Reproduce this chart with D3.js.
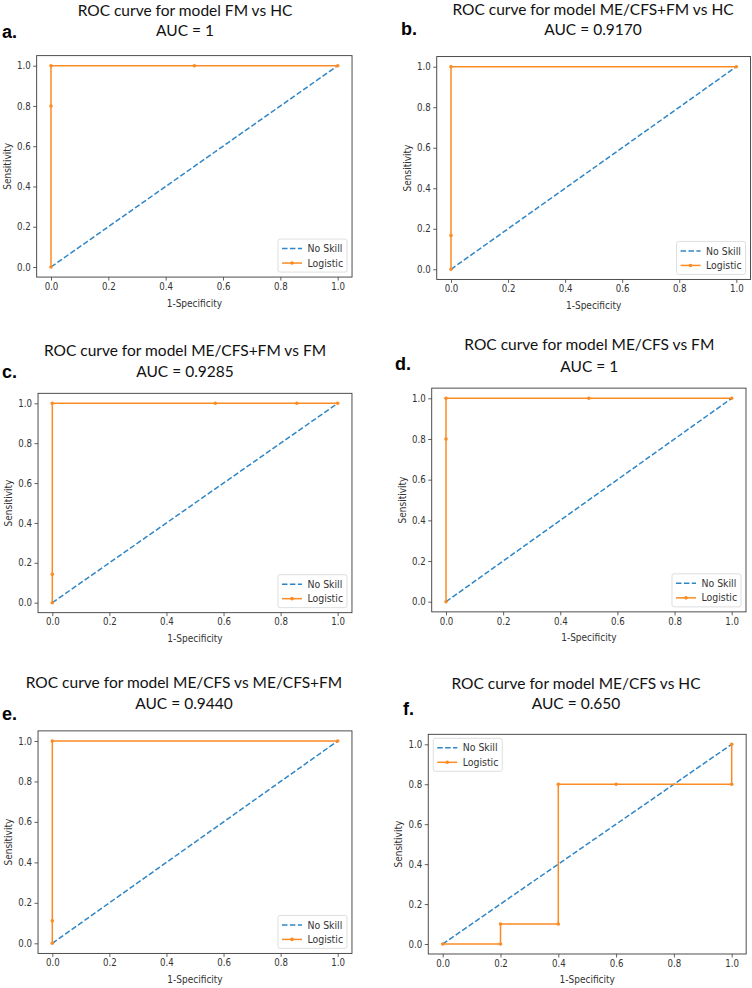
<!DOCTYPE html>
<html>
<head>
<meta charset="utf-8">
<script src="https://cdn.jsdelivr.net/npm/d3@7"></script>
<style>
  html, body { margin: 0; padding: 0; background: #fff; }
  svg { display: block; }
</style>
</head>
<body>
<svg id="chart" width="752" height="988"></svg>
<script>
// ---- data ----
const panelLetters = ["a.", "b.", "c.", "d.", "e.", "f."];
const titleLines1 = [
  "ROC curve for model FM vs HC",
  "ROC curve for model ME/CFS+FM vs HC",
  "ROC curve for model ME/CFS+FM vs FM",
  "ROC curve for model ME/CFS vs FM",
  "ROC curve for model ME/CFS vs ME/CFS+FM",
  "ROC curve for model ME/CFS vs HC"
];
const aucLabels = ["AUC = 1", "AUC = 0.9170", "AUC = 0.9285", "AUC = 1", "AUC = 0.9440", "AUC = 0.650"];
const noSkillFpr = [0, 1];
const noSkillTpr = [0, 1];
const fprA = [0, 0, 0, 0.5, 1];
const tprA = [0, 0.8, 1, 1, 1];
const fprB = [0, 0, 0, 1];
const tprB = [0, 0.167, 1, 1];
const fprC = [0, 0, 0, 0.571, 0.857, 1];
const tprC = [0, 0.143, 1, 1, 1, 1];
const fprD = [0, 0, 0, 0.5, 1];
const tprD = [0, 0.8, 1, 1, 1];
const fprE = [0, 0, 0, 1];
const tprE = [0, 0.111, 1, 1];
const fprF = [0, 0.2, 0.2, 0.4, 0.4, 0.6, 1, 1];
const tprF = [0, 0, 0.1, 0.1, 0.8, 0.8, 0.8, 1];
const tickValues = [0, 0.2, 0.4, 0.6, 0.8, 1.0];
const xLabelText = "1-Specificity";
const yLabelText = "Sensitivity";
const legendNames = ["No Skill", "Logistic"];
const legendPos = ["lr", "lr", "lr", "lr", "lr", "ul"];

const fprs = [fprA, fprB, fprC, fprD, fprE, fprF];
const tprs = [tprA, tprB, tprC, tprD, tprE, tprF];

// ---- layout (pixel positions of 0 and 1 ticks) ----
const layout = [
  { x0: 51,    x1: 337.7, y0: 267,   y1: 65.7,  tx: 185,   ty1: 11,    ty2: 30.5,  lx: 2,     ly: 38 },
  { x0: 451,   x1: 736.3, y0: 269.3, y1: 66.7,  tx: 593,   ty1: 10,    ty2: 30,    lx: 401,   ly: 35 },
  { x0: 52.3,  x1: 337.7, y0: 602.7, y1: 403.3, tx: 185,   ty1: 351,   ty2: 372,   lx: 2,     ly: 378 },
  { x0: 446,   x1: 731.7, y0: 601.7, y1: 398.3, tx: 589.3, ty1: 345,   ty2: 366.7, lx: 395,   ly: 370 },
  { x0: 52.3,  x1: 337.7, y0: 943.3, y1: 741,   tx: 184,   ty1: 683,   ty2: 704,   lx: 2,     ly: 720 },
  { x0: 442.7, x1: 731.7, y0: 944,   y1: 744.3, tx: 576,   ty1: 683.3, ty2: 704,   lx: 403,   ly: 715 }
];

const BLUE = "#2f86c6";
const ORANGE = "#fb8b24";
const FRAME = "#3a3a3a";
const TXT = "#333";
const SMALL_FONT = "'DejaVu Sans', sans-serif";

const svg = d3.select("#chart");

layout.forEach((L, i) => {
  const ux = L.x1 - L.x0, uy = L.y0 - L.y1;
  const left = L.x0 - 0.05 * ux, right = L.x1 + 0.05 * ux;
  const top = L.y1 - 0.05 * uy, bottom = L.y0 + 0.05 * uy;
  const x = d3.scaleLinear().domain([-0.05, 1.05]).range([left, right]);
  const y = d3.scaleLinear().domain([-0.05, 1.05]).range([bottom, top]);

  const g = svg.append("g");

  // titles
  g.append("text").attr("x", L.tx).attr("y", L.ty1).attr("dy", "0.35em")
    .attr("text-anchor", "middle").attr("font-family", "Lato, 'Open Sans', sans-serif")
    .attr("font-size", 15.5).attr("fill", "#111").text(titleLines1[i]);
  g.append("text").attr("x", L.tx).attr("y", L.ty2).attr("dy", "0.35em")
    .attr("text-anchor", "middle").attr("font-family", "Lato, 'Open Sans', sans-serif")
    .attr("font-size", 15.5).attr("fill", "#111").text(aucLabels[i]);
  // panel letter
  g.append("text").attr("x", L.lx).attr("y", L.ly)
    .attr("font-family", "'Liberation Sans', Arial, sans-serif").attr("font-weight", "bold")
    .attr("font-size", 18).attr("fill", "#000").text(panelLetters[i]);

  // axes
  const fmt = d3.format(".1f");
  const xAxis = d3.axisBottom(x).tickValues(tickValues).tickFormat(fmt).tickSize(3.5).tickPadding(2.5);
  const yAxis = d3.axisLeft(y).tickValues(tickValues).tickFormat(fmt).tickSize(3.5).tickPadding(2.5);
  const gx = g.append("g").attr("transform", `translate(0,${bottom})`).call(xAxis);
  const gy = g.append("g").attr("transform", `translate(${left},0)`).call(yAxis);
  [gx, gy].forEach(ax => {
    ax.select(".domain").remove();
    ax.selectAll(".tick line").attr("stroke", FRAME).attr("stroke-width", 0.8);
    ax.selectAll(".tick text").attr("fill", TXT)
      .attr("font-family", SMALL_FONT).attr("font-size", 9.6)
      .attr("font-stretch", "condensed");
  });

  // axis labels
  g.append("text").attr("x", (left + right) / 2).attr("y", bottom + 26).attr("dy", "0.35em")
    .attr("text-anchor", "middle").attr("font-family", SMALL_FONT)
    .attr("font-size", 10).attr("font-stretch", "condensed").attr("fill", TXT).text(xLabelText);
  g.append("text")
    .attr("transform", `translate(${L.x0 - 44},${(top + bottom) / 2}) rotate(-90)`)
    .attr("dy", "0.35em").attr("text-anchor", "middle").attr("font-family", SMALL_FONT)
    .attr("font-size", 10).attr("font-stretch", "condensed").attr("fill", TXT).text(yLabelText);

  // clip
  const cid = "clip" + i;
  g.append("clipPath").attr("id", cid).append("rect")
    .attr("x", left).attr("y", top).attr("width", right - left).attr("height", bottom - top);

  const line = d3.line().x(d => x(d[0])).y(d => y(d[1]));
  // no skill
  g.append("path").attr("clip-path", `url(#${cid})`)
    .datum(noSkillFpr.map((v, k) => [v, noSkillTpr[k]]))
    .attr("d", line).attr("fill", "none").attr("stroke", BLUE)
    .attr("stroke-width", 1.5).attr("stroke-dasharray", "5.5,2.4");
  // logistic
  const pts = fprs[i].map((v, k) => [v, tprs[i][k]]);
  g.append("path").datum(pts).attr("d", line).attr("fill", "none")
    .attr("stroke", ORANGE).attr("stroke-width", 1.5);
  g.selectAll("circle.m").data(pts).join("circle").attr("class", "m")
    .attr("cx", d => x(d[0])).attr("cy", d => y(d[1])).attr("r", 1.8).attr("fill", ORANGE);

  // frame
  g.append("rect").attr("x", left).attr("y", top).attr("width", right - left).attr("height", bottom - top)
    .attr("fill", "none").attr("stroke", FRAME).attr("stroke-width", 0.9);

  // legend
  const lw = 69, lh = 33;
  let bx, by;
  if (legendPos[i] === "lr") { bx = right - 5 - lw; by = bottom - 5 - lh; }
  else { bx = left + 5; by = top + 4; }
  const lg = g.append("g").attr("transform", `translate(${bx},${by})`);
  lg.append("rect").attr("width", lw).attr("height", lh).attr("rx", 2)
    .attr("fill", "#fff").attr("fill-opacity", 0.85).attr("stroke", "#d6d6d6").attr("stroke-width", 0.8);
  const rows = [9.5, 24];
  lg.append("line").attr("x1", 4).attr("x2", 24).attr("y1", rows[0]).attr("y2", rows[0])
    .attr("stroke", BLUE).attr("stroke-width", 1.5).attr("stroke-dasharray", "5.5,2.4");
  lg.append("line").attr("x1", 4).attr("x2", 24).attr("y1", rows[1]).attr("y2", rows[1])
    .attr("stroke", ORANGE).attr("stroke-width", 1.5);
  lg.append("circle").attr("cx", 14).attr("cy", rows[1]).attr("r", 1.8).attr("fill", ORANGE);
  legendNames.forEach((nm, k) => {
    lg.append("text").attr("x", 29.5).attr("y", rows[k]).attr("dy", "0.35em")
      .attr("font-family", SMALL_FONT).attr("font-size", 10.4)
      .attr("font-stretch", "condensed").attr("fill", TXT).text(nm);
  });
});
</script>
</body>
</html>
